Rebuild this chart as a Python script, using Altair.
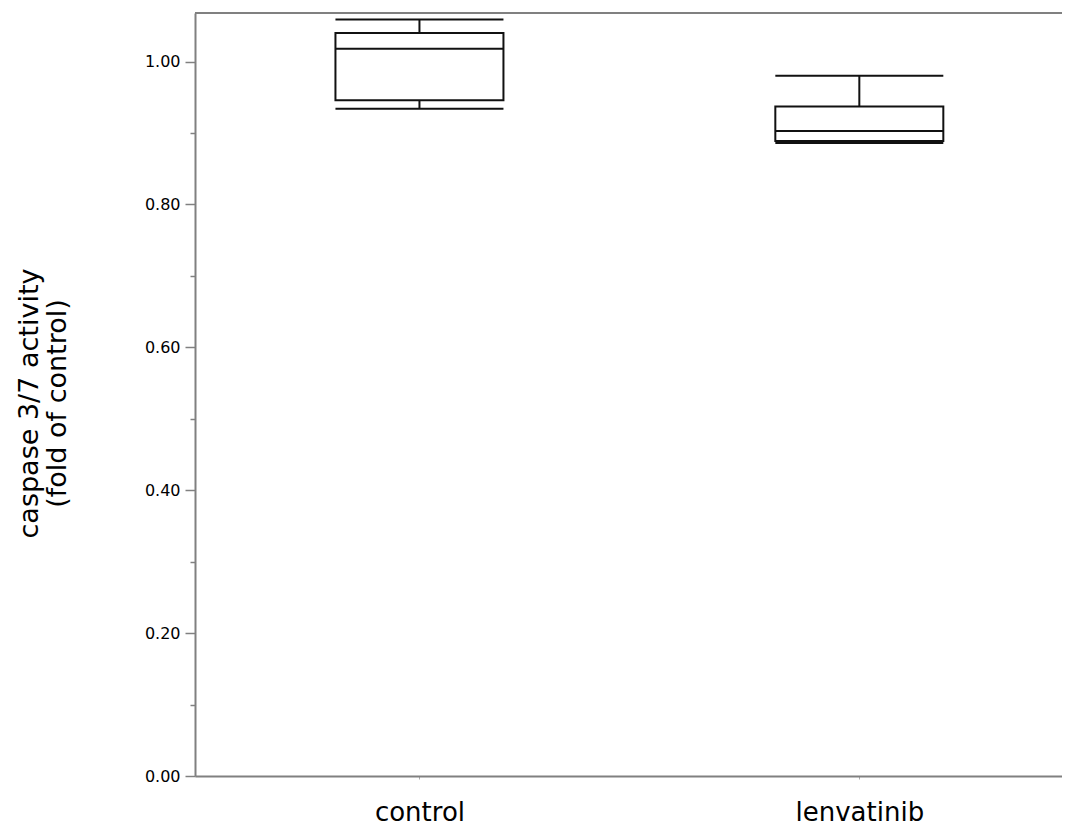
import altair as alt
import pandas as pd

groups = ["control", "lenvatinib"]
lower = [0.934, 0.886]
q1 = [0.946, 0.889]
median = [1.018, 0.903]
q3 = [1.040, 0.937]
upper = [1.059, 0.980]

df = pd.DataFrame({
    "group": groups,
    "idx": list(range(len(groups))),
    "lower": lower, "q1": q1, "median": median, "q3": q3, "upper": upper,
})

W, H = 867, 763
FONT = "DejaVu Sans"
GRAY = "#808080"

label_expr = " : ".join(
    [f"datum.value == {i} ? '{g}'" for i, g in enumerate(groups)] + ["''"]
)

xscale = alt.Scale(domain=[-0.4989, 1.4494], nice=False, zero=False)
yscale = alt.Scale(domain=[0, 1.068], nice=False, zero=False)

xaxis = alt.Axis(
    values=list(range(len(groups))), labelExpr=label_expr, title=None,
    grid=False, domainColor=GRAY, domainWidth=2, tickColor="#aaaaaa",
    tickSize=3, tickWidth=1, labelFont=FONT, labelFontSize=26,
    labelColor="#000000", labelBaseline="alphabetic", labelPadding=41,
    labelAlign="center",
)
yaxis = alt.Axis(
    values=[round(i * 0.1, 1) for i in range(11)],
    format=".2f",
    labelExpr="round(datum.value * 10) % 2 == 0 ? datum.label : ''",
    tickSize={"condition": {"test": "round(datum.value * 10) % 2 == 0", "value": 10}, "value": 5},
    tickColor=GRAY, tickWidth=1.5, domainColor=GRAY, domainWidth=2, grid=False,
    labelFont=FONT, labelFontSize=16, labelColor="#000000", labelPadding=5,
    title=["caspase 3/7 activity", "(fold of control)"],
    titleFont=FONT, titleFontSize=27, titleFontWeight="normal", titleColor="#000000",
    titleLineHeight=28, titleAngle=-90, titleAlign="center", titleBaseline="middle",
    titleX=-166, titleY=390,
)

base = alt.Chart(df)
x = alt.X("idx:Q", scale=xscale, axis=xaxis)

box = base.mark_bar(size=168, fill="white", stroke="#111111", strokeWidth=2).encode(
    x=x, y=alt.Y("q1:Q", scale=yscale, axis=yaxis), y2="q3:Q"
)
whisk_hi = base.mark_rule(color="#111111", strokeWidth=2).encode(x=x, y="q3:Q", y2="upper:Q")
whisk_lo = base.mark_rule(color="#111111", strokeWidth=2).encode(x=x, y="lower:Q", y2="q1:Q")
cap_hi = base.mark_tick(orient="horizontal", size=168, thickness=2, color="#111111", opacity=1).encode(x=x, y="upper:Q")
cap_lo = base.mark_tick(orient="horizontal", size=168, thickness=2, color="#111111", opacity=1).encode(x=x, y="lower:Q")
med = base.mark_tick(orient="horizontal", size=168, thickness=2, color="#111111", opacity=1).encode(x=x, y="median:Q")

top = alt.Chart(alt.Data(values=[{}])).mark_rule(color=GRAY, strokeWidth=2).encode(
    x=alt.value(0), x2=alt.value(W), y=alt.value(0)
)

chart = alt.layer(whisk_hi, whisk_lo, box, cap_hi, cap_lo, med, top).properties(
    width=W, height=H,
    autosize=alt.AutoSizeParams(type="none"),
    padding={"left": 187, "top": 5, "right": 0, "bottom": 51},
).configure_view(stroke=None).configure(background="white")

chart.save("out.html", embed_options={"renderer": "svg", "actions": False})
